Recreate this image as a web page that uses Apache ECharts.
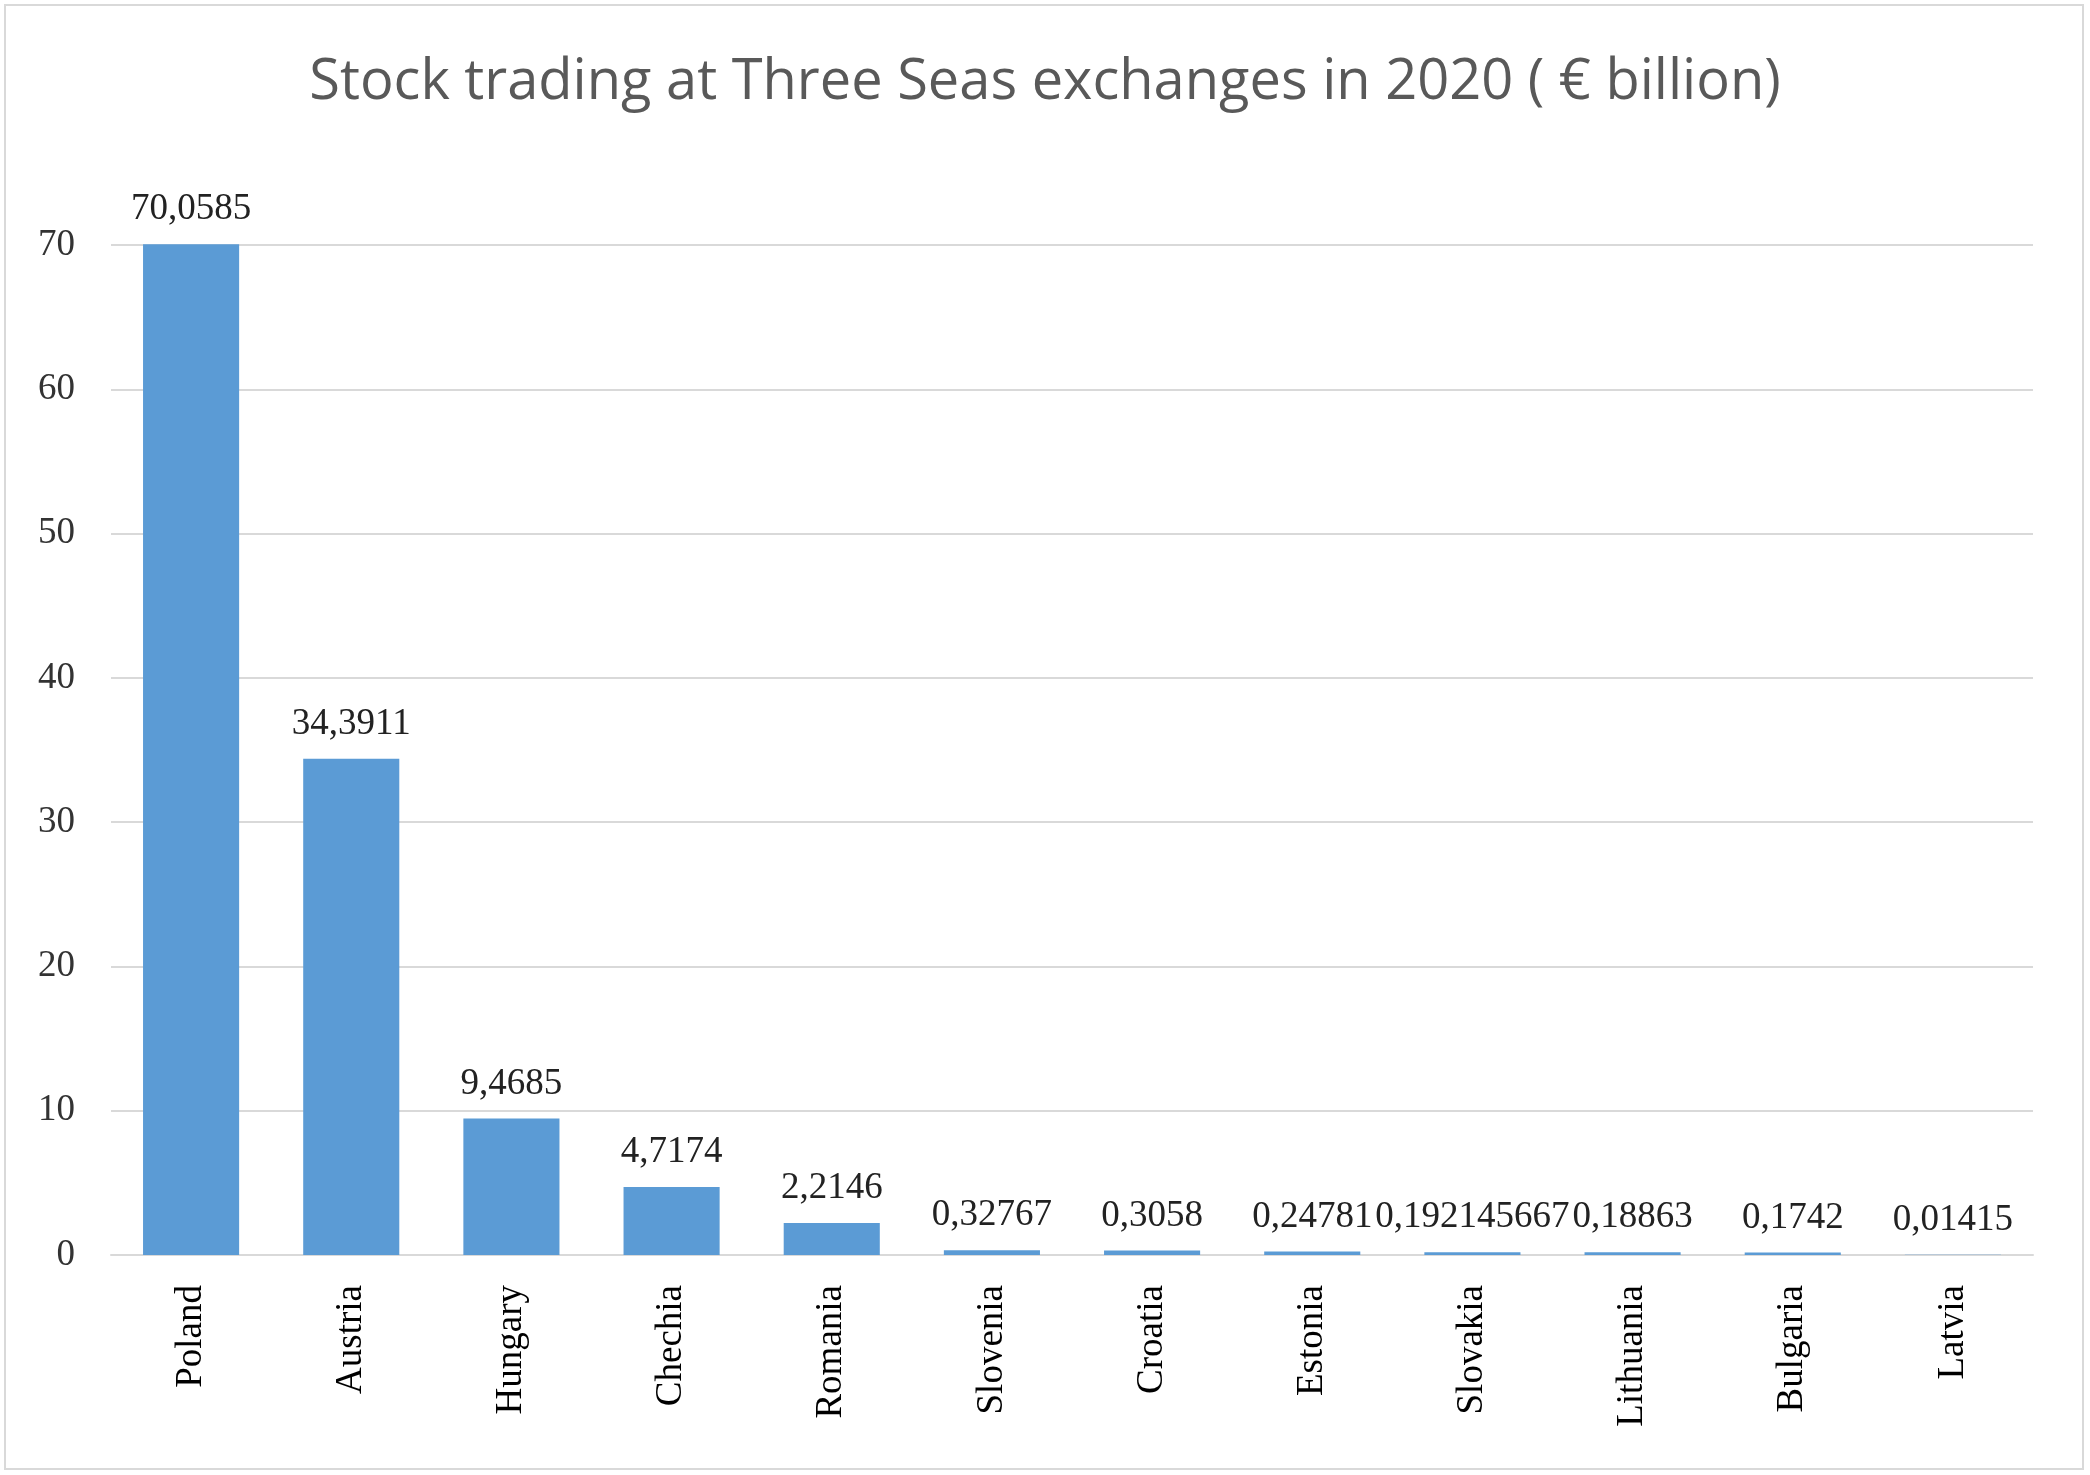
<!DOCTYPE html>
<html>
<head>
<meta charset="utf-8">
<script src="https://cdn.jsdelivr.net/npm/echarts@6/dist/echarts.min.js"></script>
<style>
html, body { margin: 0; padding: 0; background: #fff; }
#main { width: 2090px; height: 1475px; box-sizing: border-box; }
#frame { position: absolute; left: 4px; top: 4px; width: 2080px; height: 1466px; border: 2px solid #d9d9d9; box-sizing: border-box; }
</style>
</head>
<body>
<div id="frame"></div>
<div id="main" style="position:absolute;left:0;top:0;"></div>
<script>
var countries = ['Poland', 'Austria', 'Hungary', 'Chechia', 'Romania', 'Slovenia', 'Croatia', 'Estonia', 'Slovakia', 'Lithuania', 'Bulgaria', 'Latvia'];
var values = [70.0585, 34.3911, 9.4685, 4.7174, 2.2146, 0.32767, 0.3058, 0.24781, 0.192145667, 0.18863, 0.1742, 0.01415];
var valueLabels = ['70,0585', '34,3911', '9,4685', '4,7174', '2,2146', '0,32767', '0,3058', '0,24781', '0,192145667', '0,18863', '0,1742', '0,01415'];

var myChart = echarts.init(document.getElementById('main'));

var option = {
    title: {
        text: 'Stock trading at Three Seas exchanges in 2020 ( € billion)',
        left: 'center',
        top: 50,
        textStyle: {
            fontFamily: 'Open Sans',
            fontWeight: 'normal',
            fontSize: 56,
            color: '#595959'
        }
    },
    grid: {
        left: 111,
        right: 57,
        top: 245,
        bottom: 220
    },
    xAxis: {
        type: 'category',
        data: countries,
        axisTick: { show: false },
        axisLine: { lineStyle: { color: '#d9d9d9', width: 2 } },
        axisLabel: {
            rotate: 90,
            margin: 30,
            fontFamily: 'Liberation Serif',
            fontSize: 37,
            color: '#000'
        }
    },
    yAxis: {
        type: 'value',
        min: 0,
        max: 70,
        interval: 10,
        axisLine: { show: false },
        axisTick: { show: false },
        axisLabel: {
            margin: 36,
            fontFamily: 'Liberation Serif',
            fontSize: 37,
            color: '#333'
        },
        splitLine: { lineStyle: { color: '#d9d9d9', width: 2 } }
    },
    series: [{
        type: 'bar',
        data: values,
        barWidth: '60%',
        clip: false,
        itemStyle: { color: '#5b9bd5' },
        label: {
            show: true,
            position: 'top',
            distance: 16,
            fontFamily: 'Liberation Serif',
            fontSize: 37,
            color: '#222',
            formatter: function (p) {
                return valueLabels[p.dataIndex];
            }
        }
    }]
};
myChart.setOption(option);
</script>
</body>
</html>
